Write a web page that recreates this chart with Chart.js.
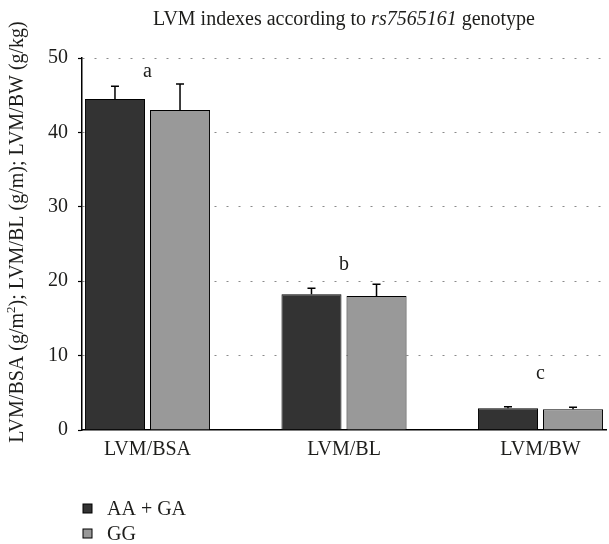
<!DOCTYPE html>
<html>
<head>
<meta charset="utf-8">
<title>LVM indexes according to rs7565161 genotype</title>
<script src="https://cdn.jsdelivr.net/npm/chart.js@4/dist/chart.umd.min.js"></script>
<style>
  html, body { margin: 0; padding: 0; background: #fff; }
</style>
</head>
<body>
<canvas id="lvmChart" width="609" height="544"></canvas>
<script>
/* LVM indexes by rs7565161 genotype — grouped bars with SD error bars */

const categories = ['LVM/BSA', 'LVM/BL', 'LVM/BW'];
const seriesNames = ['AA + GA', 'GG'];
const aaGaValues = [44.5, 18.26, 2.92];
const aaGaErrors = [1.7, 0.8, 0.22];
const ggValues = [43.0, 18.0, 2.79];
const ggErrors = [3.5, 1.6, 0.26];
const groupLetters = ['a', 'b', 'c'];
const letterLevels = [48.1, 22.2, 7.5];
const yTicks = [0, 10, 20, 30, 40, 50];

const SERIF = '"Liberation Serif", "Times New Roman", serif';
const INK = '#1d1d1b';

function toPoints(values) {
    return values.map(function (v, i) { return { x: i, y: v }; });
}

// draw a row of text pieces with mixed fonts, centred on cx
function drawRuns(ctx, runs, cx, cy) {
    let total = 0;
    runs.forEach(function (r) {
        ctx.font = r.font;
        r.w = ctx.measureText(r.text).width;
        total += r.w;
    });
    let x = cx - total / 2;
    runs.forEach(function (r) {
        ctx.font = r.font;
        ctx.fillText(r.text, x, cy + (r.dy || 0));
        x += r.w;
    });
}

const errorBars = {
    id: 'errorBars',
    afterDatasetsDraw(chart) {
        const ctx = chart.ctx;
        const yScale = chart.scales.y;
        const xScale = chart.scales.x;
        ctx.save();
        ctx.strokeStyle = '#000';
        ctx.lineWidth = 1.5;
        chart.data.datasets.forEach(function (ds, di) {
            const meta = chart.getDatasetMeta(di);
            meta.data.forEach(function (bar, i) {
                const top = yScale.getPixelForValue(ds.data[i].y + ds.errors[i]);
                ctx.beginPath();
                ctx.moveTo(bar.x, bar.y);
                ctx.lineTo(bar.x, top);
                ctx.moveTo(bar.x - 4, top);
                ctx.lineTo(bar.x + 4, top);
                ctx.stroke();
            });
        });

        // significance letters above each group
        ctx.fillStyle = INK;
        ctx.font = '20px ' + SERIF;
        ctx.textAlign = 'center';
        ctx.textBaseline = 'middle';
        groupLetters.forEach(function (letter, i) {
            ctx.fillText(letter, xScale.getPixelForValue(i), yScale.getPixelForValue(letterLevels[i]));
        });
        ctx.restore();
    },
    afterDraw(chart) {
        const ctx = chart.ctx;
        const area = chart.chartArea;
        ctx.save();
        ctx.fillStyle = INK;
        ctx.textAlign = 'left';
        ctx.textBaseline = 'alphabetic';

        // title, with the SNP id in italics
        drawRuns(ctx, [
            { text: 'LVM indexes according to ', font: '20px ' + SERIF },
            { text: 'rs7565161', font: 'italic 20px ' + SERIF },
            { text: ' genotype', font: '20px ' + SERIF }
        ], (area.left + area.right) / 2, 25);

        // rotated y axis title
        ctx.save();
        ctx.translate(23, 232);
        ctx.rotate(-Math.PI / 2);
        drawRuns(ctx, [
            { text: 'LVM/BSA (g/m', font: '20px ' + SERIF },
            { text: '2', font: '13px ' + SERIF, dy: -8 },
            { text: '); LVM/BL (g/m); LVM/BW (g/kg)', font: '20px ' + SERIF }
        ], 0, 0);
        ctx.restore();

        // legend, stacked vertically at bottom left
        ctx.textBaseline = 'middle';
        ctx.font = '20px ' + SERIF;
        chart.data.datasets.forEach(function (ds, i) {
            const cy = 508.5 + i * 25;
            ctx.fillStyle = ds.backgroundColor;
            ctx.fillRect(83, cy - 4.5, 9, 9);
            ctx.strokeStyle = '#000';
            ctx.lineWidth = 1;
            ctx.strokeRect(83, cy - 4.5, 9, 9);
            ctx.fillStyle = INK;
            ctx.fillText(ds.label, 107, cy + 1);
        });
        ctx.restore();
    }
};

new Chart(document.getElementById('lvmChart'), {
    type: 'bar',
    data: {
        datasets: [{
            label: seriesNames[0],
            data: toPoints(aaGaValues),
            errors: aaGaErrors,
            backgroundColor: '#333333',
            borderColor: '#000',
            borderWidth: 1,
            categoryPercentage: 0.662,
            barPercentage: 0.923,
        }, {
            label: seriesNames[1],
            data: toPoints(ggValues),
            errors: ggErrors,
            backgroundColor: '#999999',
            borderColor: '#000',
            borderWidth: 1,
            categoryPercentage: 0.662,
            barPercentage: 0.923,
        }],
    },
    options: {
        responsive: false,
        animation: false,
        devicePixelRatio: 1,
        layout: { padding: { top: 58, right: 3, bottom: 74, left: 0 } },
        plugins: {
            legend: { display: false },
            tooltip: { enabled: false },
        },
        scales: {
            x: {
                type: 'linear',
                min: -1 / 3,
                max: 7 / 3,
                offset: false,
                afterBuildTicks: function (s) {
                    s.ticks = categories.map(function (c, i) { return { value: i }; });
                },
                afterFit: function (s) { s.height = 40; },
                ticks: {
                    callback: function (v) { return categories[v] || ''; },
                    font: { family: SERIF, size: 20 },
                    color: INK,
                    padding: 8,
                    maxRotation: 0,
                    autoSkip: false,
                },
                grid: { display: false, drawTicks: false, offset: false },
                border: { color: '#000', width: 1.5 },
            },
            y: {
                min: 0,
                max: 50,
                afterBuildTicks: function (s) {
                    s.ticks = yTicks.map(function (v) { return { value: v }; });
                },
                afterFit: function (s) { s.width = 82; },
                ticks: {
                    font: { family: SERIF, size: 20 },
                    color: INK,
                    padding: 10,
                },
                grid: {
                    color: function (c) { return c.tick && c.tick.value === 0 ? 'rgba(0,0,0,0)' : '#8a8a8a'; },
                    lineWidth: 1,
                    tickLength: 4,
                    tickColor: '#000',
                    tickWidth: 1.2,
                },
                border: { color: '#000', width: 1.5, dash: [2, 10] },
            },
        },
    },
    plugins: [errorBars],
});
</script>
</body>
</html>
